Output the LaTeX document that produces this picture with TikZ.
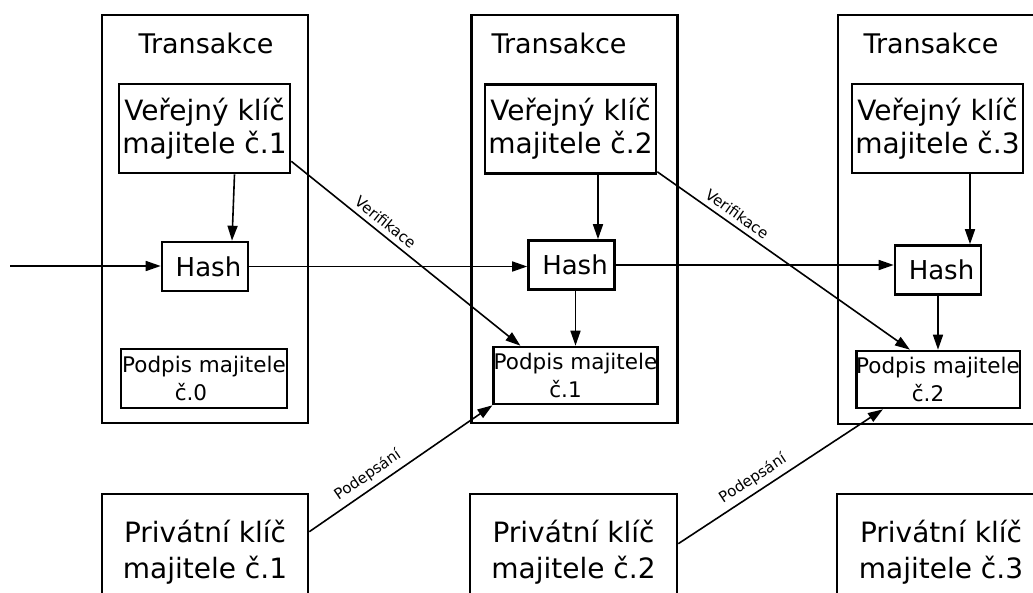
\documentclass[tikz,border=0pt]{standalone}
\usepackage{fontspec}
\setmainfont{DejaVu Sans}
\usetikzlibrary{arrows.meta,calc}
\begin{document}
\begin{tikzpicture}[x=1pt,y=-1pt,
  box/.style={draw,line width=2.6pt,inner sep=0pt,align=center},
  tbox/.style={box,minimum width=206pt,minimum height=408pt},
  title/.style={inner sep=0pt,font=\fontsize{27}{30}\selectfont},
  pk/.style={box,minimum width=171pt,minimum height=89pt,font=\fontsize{28}{33}\selectfont},
  hashbox/.style={box,minimum width=86pt,minimum height=49pt,font=\fontsize{26}{30}\selectfont},
  sig/.style={box,minimum width=164pt,minimum height=58pt,font=\fontsize{21.5}{28}\selectfont},
  pr/.style={box,minimum width=206pt,minimum height=116pt,font=\fontsize{28}{36}\selectfont},
  conn/.style={line width=1.6pt,-{Triangle[length=15pt,width=10pt]}},
  lab/.style={font=\fontsize{15}{17}\selectfont,sloped,above=5pt,inner sep=0pt}
]
\useasboundingbox (0,0) rectangle (1033,592);
\clip (0,0) rectangle (1033,592);

% transaction frames
\node[tbox] (T1) at (205,219) {};
\node[tbox] (T2) at (574.5,219) {};
\node[tbox,minimum width=207pt,minimum height=409pt] (T3) at (941.5,219.5) {};
\node[title] (t1) at (206,43) {Transakce};
\node[title] (t2) at (559,43) {Transakce};
\node[title] (t3) at (931,43) {Transakce};

% public keys
\node[pk] (PK1) at (204.5,128.5) {Veřejný klíč\\majitele č.1};
\node[pk] (PK2) at (570.5,129) {Veřejný klíč\\majitele č.2};
\node[pk] (PK3) at (937.5,128.5) {Veřejný klíč\\majitele č.3};

% hashes
\node[hashbox] (H1) at (205,266.5) {\hspace*{7pt}Hash};
\node[hashbox] (H2) at (571.5,265) {\hspace*{7pt}Hash};
\node[hashbox] (H3) at (938,270) {\hspace*{7pt}Hash};

% signatures
\node[sig,minimum width=166pt,minimum height=59pt] (P1) at (204,378.5) {Podpis majitele\\č.0\hspace*{26pt}};
\node[sig,minimum width=163pt,minimum height=57pt] (P2) at (575.5,375.5) {Podpis majitele\\č.1\hspace*{20pt}};
\node[sig,minimum width=162pt,minimum height=57pt] (P3) at (938,379.5) {Podpis majitele\\č.2\hspace*{20pt}};

% private keys
\node[pr] (PR1) at (205,552) {Privátní klíč\\majitele č.1};
\node[pr,minimum width=207pt] (PR2) at (573.5,552) {Privátní klíč\\majitele č.2};
\node[pr,minimum width=208pt] (PR3) at (941,552) {Privátní klíč\\majitele č.3};

\coordinate (in) at (10,266);

% hash chain
\draw[conn] (in) -- (in -| H1.west);
\draw[conn] (H1.east) -- (H1.east -| H2.west);
\draw[conn] (H2.east) -- (H2.east -| H3.west);

% public key -> hash
\draw[conn] ($(PK1.south)+(30,0)$) -- ($(H1.north)+(27,0)$);
\draw[conn] ($(PK2.south)+(27.5,0)$) -- ($(H2.north)+(26.5,0)$);
\draw[conn] ($(PK3.south)+(32.5,0)$) -- ($(H3.north)+(32,0)$);

% hash -> signature
\draw[conn] (H2.south -| P2.north) -- (P2.north);
\draw[conn] (H3.south -| P3.north) -- (P3.north);

% verification
\draw[conn] ($(PK1.south east)+(0,-13)$) -- node[lab,pos=0.38] (v1) {Verifikace} ($(P2.north west)+(28,0)$);
\draw[conn] ($(PK2.south east)+(0,-3)$) -- node[lab,pos=0.29] (v2) {Verifikace} ($(P3.north west)+(55,0)$);

% signing
\draw[conn] ($(PR1.north east)+(0,39)$) -- node[lab,pos=0.36] (s1) {Podepsání} (P2.south west);
\draw[conn] ($(PR2.north east)+(0,51)$) -- node[lab,pos=0.4] (s2) {Podepsání} ($(P3.south west)+(28,0)$);
\end{tikzpicture}
\end{document}
